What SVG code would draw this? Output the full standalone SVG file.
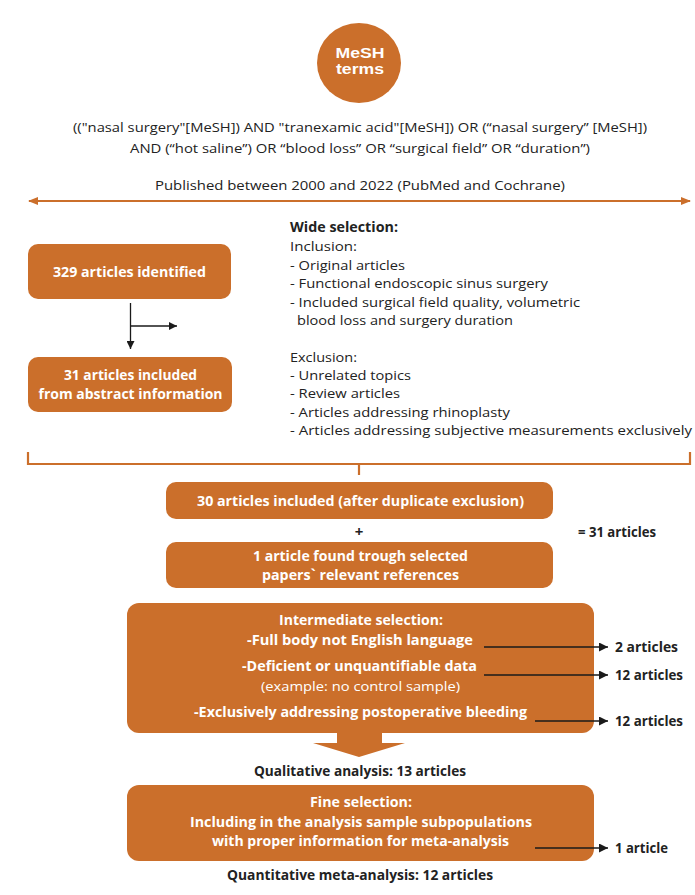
<svg xmlns="http://www.w3.org/2000/svg" width="695" height="895" viewBox="0 0 695 895">
<defs>
<style>
.box{fill:#CB6F2B;}
.ln{stroke:#CB6F2B;stroke-width:2.2;fill:none;}
.bl{stroke:#1a1a1a;stroke-width:1.3;fill:none;}
text{font-family:"Open Sans","Liberation Sans",sans-serif;}
.w{fill:#fff;font-weight:bold;font-size:13.5px;text-anchor:middle;}
.d{fill:#222;font-size:13px;}
.db{fill:#222;font-size:13.5px;font-weight:bold;}
.c{text-anchor:middle;}
.m{fill:#fff;font-weight:bold;font-size:14px;text-anchor:middle;font-family:"Liberation Sans",sans-serif;}
</style>
<marker id="ah" viewBox="0 0 10 10" refX="10" refY="5" markerWidth="8" markerHeight="8" markerUnits="userSpaceOnUse" orient="auto"><path d="M0,0 L10,5 L0,10 z" fill="#1a1a1a"/></marker>
<marker id="ahk" viewBox="0 0 10 10" refX="10" refY="5" markerWidth="9" markerHeight="9" markerUnits="userSpaceOnUse" orient="auto"><path d="M0,0 L10,5 L0,10 z" fill="#1a1a1a"/></marker>
<marker id="ao" viewBox="0 0 10 10" refX="9" refY="5" markerWidth="10" markerHeight="10" markerUnits="userSpaceOnUse" orient="auto-start-reverse"><path d="M0,1 L10,5 L0,9 z" fill="#CB6F2B"/></marker>
</defs>

<g id="mesh">
<ellipse class="box" cx="359" cy="63" rx="42" ry="40"/>
<text class="m" x="360" y="58" textLength="49" lengthAdjust="spacingAndGlyphs">MeSH</text>
<text class="m" x="360" y="74" textLength="48" lengthAdjust="spacingAndGlyphs">terms</text>
</g>

<g id="query">
<text class="d c" x="360" y="132" textLength="574" lengthAdjust="spacingAndGlyphs">(("nasal surgery"[MeSH]) AND "tranexamic acid"[MeSH]) OR (“nasal surgery” [MeSH])</text>
<text class="d c" x="360" y="153" textLength="460" lengthAdjust="spacingAndGlyphs">AND (“hot saline”) OR “blood loss” OR “surgical field” OR “duration”)</text>
<text class="d c" x="360" y="190" textLength="410" lengthAdjust="spacingAndGlyphs">Published between 2000 and 2022 (PubMed and Cochrane)</text>
</g>

<g id="n329">
<rect class="box" x="28" y="244" width="203" height="55" rx="10"/>
<text class="w" x="129.5" y="277" textLength="153" lengthAdjust="spacingAndGlyphs">329 articles identified</text>
</g>

<g id="n31">
<rect class="box" x="28" y="357" width="204" height="55" rx="10"/>
<text class="w" x="130.5" y="380" textLength="133" lengthAdjust="spacingAndGlyphs">31 articles included</text>
<text class="w" x="130.5" y="399" textLength="184" lengthAdjust="spacingAndGlyphs">from abstract information</text>
</g>

<g id="wide">
<text class="db" x="290" y="232" textLength="108" lengthAdjust="spacingAndGlyphs">Wide selection:</text>
<text class="d" x="290" y="251" textLength="67" lengthAdjust="spacingAndGlyphs">Inclusion:</text>
<text class="d" x="290" y="270" textLength="115" lengthAdjust="spacingAndGlyphs">- Original articles</text>
<text class="d" x="290" y="288" textLength="258" lengthAdjust="spacingAndGlyphs">- Functional endoscopic sinus surgery</text>
<text class="d" x="290" y="307" textLength="290" lengthAdjust="spacingAndGlyphs">- Included surgical field quality, volumetric</text>
<text class="d" x="297" y="325" textLength="216" lengthAdjust="spacingAndGlyphs">blood loss and surgery duration</text>
<text class="d" x="290" y="362" textLength="67" lengthAdjust="spacingAndGlyphs">Exclusion:</text>
<text class="d" x="290" y="380" textLength="121" lengthAdjust="spacingAndGlyphs">- Unrelated topics</text>
<text class="d" x="290" y="398" textLength="110" lengthAdjust="spacingAndGlyphs">- Review articles</text>
<text class="d" x="290" y="417" textLength="220" lengthAdjust="spacingAndGlyphs">- Articles addressing rhinoplasty</text>
<text class="d" x="290" y="435" textLength="402" lengthAdjust="spacingAndGlyphs">- Articles addressing subjective measurements  exclusively</text>
</g>

<g id="n30">
<rect class="box" x="166" y="482" width="387" height="37" rx="10"/>
<text class="w" x="360.5" y="506" textLength="327" lengthAdjust="spacingAndGlyphs">30 articles included (after duplicate exclusion)</text>
</g>

<g id="n1">
<rect class="box" x="166" y="542" width="387" height="46" rx="10"/>
<text class="w" x="360.5" y="561" textLength="215" lengthAdjust="spacingAndGlyphs">1 article found trough selected</text>
<text class="w" x="360.5" y="580" textLength="197" lengthAdjust="spacingAndGlyphs">papers` relevant references</text>
</g>

<g id="sum">
<text class="db c" x="359" y="537" style="font-size:15px">+</text>
<text class="db" x="578" y="537" textLength="78" lengthAdjust="spacingAndGlyphs">= 31 articles</text>
</g>

<g id="intermediate">
<rect class="box" x="127" y="603" width="467" height="130" rx="12"/>
<text class="w" x="361" y="625" textLength="164" lengthAdjust="spacingAndGlyphs">Intermediate selection:</text>
<text class="w" x="360" y="645" textLength="226" lengthAdjust="spacingAndGlyphs">-Full body not English language</text>
<text class="w" x="359.5" y="671" textLength="235" lengthAdjust="spacingAndGlyphs">-Deficient or unquantifiable data</text>
<text x="360.5" y="691" textLength="199" lengthAdjust="spacingAndGlyphs" style="fill:#fff;font-size:13px;text-anchor:middle">(example: no control sample)</text>
<text class="w" x="360.5" y="717" textLength="333" lengthAdjust="spacingAndGlyphs">-Exclusively addressing postoperative bleeding</text>
</g>

<g id="qual">
<text class="db c" x="360" y="776" textLength="212" lengthAdjust="spacingAndGlyphs">Qualitative analysis: 13 articles</text>
</g>

<g id="fine">
<rect class="box" x="127" y="785" width="467" height="76" rx="12"/>
<text class="w" x="361" y="807" textLength="102" lengthAdjust="spacingAndGlyphs">Fine selection:</text>
<text class="w" x="361" y="827" textLength="342" lengthAdjust="spacingAndGlyphs">Including in the analysis sample subpopulations</text>
<text class="w" x="360.5" y="846" textLength="297" lengthAdjust="spacingAndGlyphs">with proper information for meta-analysis</text>
</g>

<g id="quant">
<text class="db c" x="360" y="880" textLength="266" lengthAdjust="spacingAndGlyphs">Quantitative meta-analysis: 12 articles</text>
</g>

<g id="excl-labels">
<text class="db" x="615" y="652" textLength="63" lengthAdjust="spacingAndGlyphs">2 articles</text>
<text class="db" x="615" y="680" textLength="68" lengthAdjust="spacingAndGlyphs">12 articles</text>
<text class="db" x="615" y="726" textLength="68" lengthAdjust="spacingAndGlyphs">12 articles</text>
<text class="db" x="615" y="853" textLength="53" lengthAdjust="spacingAndGlyphs">1 article</text>
</g>

<g id="connectors">
<line class="ln" x1="29" y1="201" x2="690" y2="201" marker-start="url(#ao)" marker-end="url(#ao)"/>
<path class="ln" d="M28,452 V464 H690 V452 M359,464 V475"/>
<line class="bl" x1="130.5" y1="303" x2="130.5" y2="349" marker-end="url(#ah)"/>
<line class="bl" x1="130.5" y1="326" x2="177" y2="326" marker-end="url(#ah)"/>
<line class="bl" x1="484" y1="647" x2="608" y2="647" marker-end="url(#ahk)"/>
<line class="bl" x1="484" y1="675" x2="608" y2="675" marker-end="url(#ahk)"/>
<line class="bl" x1="535" y1="721" x2="608" y2="721" marker-end="url(#ahk)"/>
<line class="bl" x1="535" y1="848" x2="608" y2="848" marker-end="url(#ahk)"/>
<path class="box" d="M337,732 H382 V743 H405 L359,757 L313,743 H337 Z"/>
</g>
</svg>
